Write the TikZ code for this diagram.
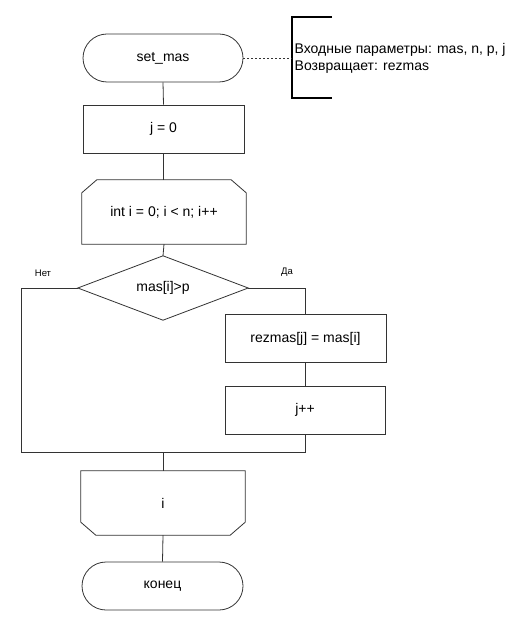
\documentclass[tikz,border=0pt]{standalone}
\usepackage{fontspec}
\setmainfont{Liberation Sans}
\begin{document}
\begin{tikzpicture}[x=1pt,y=-1pt,
  line/.style={draw=black!80,line width=0.8pt},
  txt/.style={font=\fontsize{14}{17}\selectfont,text=black},
  terminal/.style={txt,line,rounded corners=24pt,minimum width=160pt,minimum height=48pt,inner sep=0pt},
  procbox/.style={txt,line,minimum width=161pt,minimum height=48pt,inner sep=0pt},
  ghost/.style={txt,minimum width=164pt,minimum height=64pt,inner sep=0pt},
  lbl/.style={font=\fontsize{9.5}{11}\selectfont,text=black}]
\useasboundingbox[fill=white] (0,0) rectangle (514,620);

\node[terminal] (start) at (163,58) {set\_mas};
\node[procbox] (j0) at (163.5,129) {j = 0};
\node[ghost] (ls) at (164,212) {int i = 0; i < n; i++};
\draw[line] ([xshift=15pt]ls.north west) -- ([xshift=-15pt]ls.north east)
  -- ([yshift=-13pt]ls.north east) -- (ls.south east) -- (ls.south west)
  -- ([yshift=-13pt]ls.north west) -- cycle;
\node[ghost,minimum width=170pt] (d) at (163,288) {mas[i]>p};
\draw[line] (d.north) -- (d.east) -- (d.south) -- (d.west) -- cycle;
\node[procbox] (rez) at (305.5,338.5) {rezmas[j] = mas[i]};
\node[procbox,minimum width=160pt] (jpp) at (305,410) {j++};
\node[ghost] (le) at (163,503) {i};
\draw[line] (le.north west) -- (le.north east) -- ([yshift=13pt]le.south east)
  -- ([xshift=-15pt]le.south east) -- ([xshift=15pt]le.south west)
  -- ([yshift=13pt]le.south west) -- cycle;
\node[terminal,minimum width=161pt] (end) at (162.5,586) {конец};

% comment bracket
\coordinate (bt) at (332,17);
\coordinate (bm) at (292,58);
\coordinate (bb) at (332,98);
\draw[line width=1.6pt,black] (bt) -- (292,17) -- (292,98) -- (bb);
\draw[line,line width=0.6pt,dash pattern=on 2pt off 2pt] (start.east) -- (bm);
\node[txt,anchor=west,align=left,inner sep=0pt] (cm) at (294.5,58.5)
  {Входные параметры: mas, n, p, j\\Возвращает: rezmas};

% connectors
\draw[line] (start.south) -- (j0.north);
\draw[line] (j0.south) -- (ls.north -| j0.south);
\draw[line] (ls.south) -- (d.north);
\coordinate (L) at (21,452);
\coordinate (M) at (163,452);
\coordinate (R) at (305,452);
\draw[line] (d.west) -| (L) -- (R) -- (jpp.south);
\draw[line] (d.east) -| (rez.north);
\draw[line] (rez.south) -- (rez.south |- jpp.north);
\draw[line] (M) -- (le.north);
\draw[line] (le.south) -- (end.north);

\node[lbl] (no) at (43,273) {Нет};
\node[lbl] (yes) at (287,272) {Да};
\end{tikzpicture}
\end{document}
